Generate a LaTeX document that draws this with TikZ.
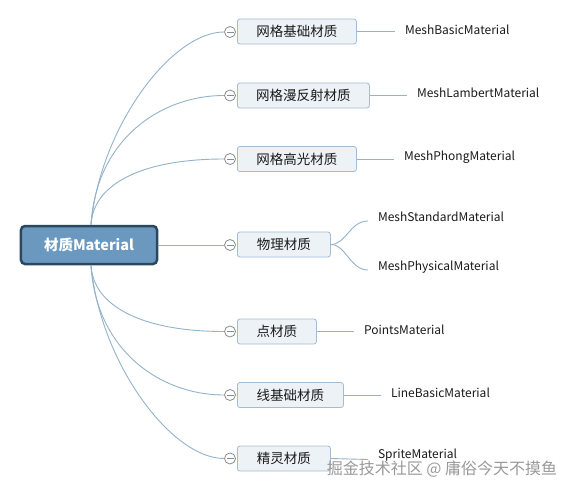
\documentclass[tikz,border=0pt]{standalone}
\usepackage{fontspec}
\setmainfont{Noto Sans CJK SC}
\definecolor{linec}{HTML}{93B3CB}
\definecolor{boxfill}{HTML}{EDF2F7}
\definecolor{boxdraw}{HTML}{A3BCD2}
\definecolor{rootfill}{HTML}{6B98BF}
\definecolor{rootdraw}{HTML}{2C475E}
\definecolor{circc}{HTML}{8C8C8C}
\definecolor{txt}{HTML}{1A1A1A}
\definecolor{wm}{HTML}{9A9A9A}
\tikzset{
  rootbox/.style={draw=rootdraw, line width=2.5bp, fill=rootfill, rounded corners=4bp,
    minimum width=136bp, minimum height=38bp, text=white, font=\fontsize{14.5bp}{16bp}\selectfont\bfseries, inner sep=0pt},
  subbox/.style={draw=boxdraw, line width=0.8bp, fill=boxfill, rounded corners=2.5bp,
    minimum height=25bp, anchor=west, text=txt, font=\fontsize{13.5bp}{15bp}\selectfont, inner sep=0pt},
  leaf/.style={anchor=west, text=txt, font=\fontsize{12bp}{14bp}\selectfont, inner xsep=10bp, inner ysep=0pt, outer sep=0pt},
  collapse/.style={circle, draw=circc, line width=0.8bp, fill=white, minimum size=11bp, inner sep=0pt,
    path picture={\draw[circc, line width=0.8bp] ([xshift=-3.5bp]path picture bounding box.center) -- ([xshift=3.5bp]path picture bounding box.center);}},
  conn/.style={draw=linec, line width=0.9bp},
}
\begin{document}
\begin{tikzpicture}[x=1bp,y=-1bp]
\useasboundingbox[fill=white] (0,0) rectangle (567,491);

% root
\node[rootbox] (root) at (89,245) {材质Material};

% sub boxes
\node[subbox, minimum width=119bp] (b1) at (237,31.5) {网格基础材质};
\node[subbox, minimum width=132bp] (b2) at (237,95.5) {网格漫反射材质};
\node[subbox, minimum width=119bp] (b3) at (237,159) {网格高光材质};
\node[subbox, minimum width=93bp] (b4) at (237,244.5) {物理材质};
\node[subbox, minimum width=79bp] (b5) at (237,331.5) {点材质};
\node[subbox, minimum width=106bp] (b6) at (237,395) {线基础材质};
\node[subbox, minimum width=93bp] (b7) at (237,458.5) {精灵材质};

% collapse circles
\node[collapse] (c1) at (230,32) {};
\node[collapse] (c2) at (230,95.5) {};
\node[collapse] (c3) at (230,159) {};
\node[collapse] (c4) at (230,245) {};
\node[collapse] (c5) at (230,331.5) {};
\node[collapse] (c6) at (230,395) {};
\node[collapse] (c7) at (230,458.5) {};

% leaves
\node[leaf] (l1) at (395,30) {MeshBasicMaterial};
\node[leaf] (l2) at (407,93) {MeshLambertMaterial};
\node[leaf] (l3) at (394,157) {MeshPhongMaterial};
\node[leaf] (l4a) at (368,217) {MeshStandardMaterial};
\node[leaf] (l4b) at (368,267) {MeshPhysicalMaterial};
\node[leaf] (l5) at (354,330) {PointsMaterial};
\node[leaf] (l6) at (381,393) {LineBasicMaterial};
\node[leaf] (l7) at (368,455) {SpriteMaterial};

% connectors root -> circles
\coordinate (rt) at ([xshift=2bp]root.north);
\coordinate (rb) at ([xshift=2bp]root.south);
\draw[conn] (rt) .. controls (100,128) and (171,32) .. (c1.west);
\draw[conn] (rt) .. controls (96,140) and (160,95.5) .. (c2.west);
\draw[conn] (rt) .. controls (93,185) and (140,159) .. (c3.west);
\draw[conn] (root.east) -- (c4.west);
\draw[conn] (rb) .. controls (93,305) and (140,331.5) .. (c5.west);
\draw[conn] (rb) .. controls (96,350) and (160,395) .. (c6.west);
\draw[conn] (rb) .. controls (100,362) and (171,458.5) .. (c7.west);

% box -> leaf
\draw[conn] (b1.east) -- (l1.west |- b1.east);
\draw[conn] (b2.east) -- (l2.west |- b2.east);
\draw[conn] (b3.east) -- (l3.west |- b3.east);
\coordinate (p4a) at (368,221);
\coordinate (p4b) at (368,270);
\draw[conn] (b4.east) .. controls (346,244.5) and (350,221) .. (p4a);
\draw[conn] (b4.east) .. controls (346,244.5) and (350,270) .. (p4b);
\draw[conn] (b5.east) -- (l5.west |- b5.east);
\draw[conn] (b6.east) -- (l6.west |- b6.east);
\draw[conn] (b7.east) -- ([yshift=-1bp]l7.west |- b7.east);

% watermark
\node[text=wm, font=\fontsize{16bp}{18bp}\selectfont, inner sep=0pt] (wmark) at (442,469) {掘金技术社区 @ 庸俗今天不摸鱼};
\end{tikzpicture}
\end{document}
